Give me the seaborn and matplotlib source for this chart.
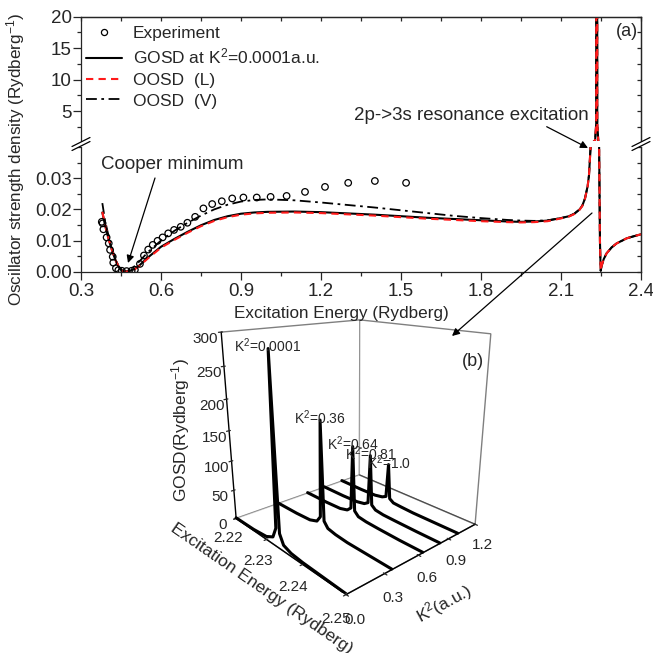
import matplotlib
matplotlib.use("Agg")
import matplotlib.pyplot as plt
import seaborn as sns
import numpy as np
import pandas as pd
from matplotlib.ticker import MultipleLocator, FixedLocator, FormatStrFormatter
from matplotlib.lines import Line2D
from matplotlib.patches import Polygon, FancyArrowPatch

# ---------------- data: panel (a) ----------------
exp_x = [0.378, 0.381, 0.384, 0.396, 0.404, 0.409, 0.419, 0.421, 0.431, 0.440,
         0.453, 0.471, 0.490, 0.502, 0.521, 0.536, 0.552, 0.569, 0.587, 0.606,
         0.627, 0.649, 0.674, 0.699, 0.728, 0.759, 0.792, 0.828, 0.867, 0.909,
         0.959, 1.011, 1.071, 1.140, 1.215, 1.302, 1.402, 1.519]
exp_y = [0.0160, 0.0155, 0.0136, 0.0110, 0.0091, 0.0070, 0.0048, 0.0029, 0.0011, 0.0005,
         0.0003, 0.0002, 0.0003, 0.0006, 0.0025, 0.0052, 0.0071, 0.0086, 0.0099, 0.0110,
         0.0123, 0.0134, 0.0144, 0.0157, 0.0176, 0.0203, 0.0217, 0.0226, 0.0235, 0.0238,
         0.0238, 0.0240, 0.0243, 0.0256, 0.0272, 0.0285, 0.0291, 0.0285]

energy = [0.38, 0.39, 0.40, 0.41, 0.42, 0.43, 0.44, 0.45, 0.46, 0.47,
          0.48, 0.50, 0.52, 0.55, 0.60, 0.65, 0.70, 0.75, 0.80, 0.85,
          0.90, 0.95, 1.00, 1.10, 1.20, 1.30, 1.40, 1.50, 1.60, 1.70,
          1.80, 1.90, 1.95, 2.00, 2.05, 2.10, 2.13, 2.15, 2.17, 2.18,
          2.19, 2.20, 2.205, 2.211, 2.220, 2.228, 2.232, 2.234, 2.236, 2.240,
          2.243, 2.246, 2.248, 2.249, 2.252, 2.260, 2.271, 2.290, 2.309, 2.330,
          2.346, 2.370, 2.400]
gosd_y = [0.0190, 0.0150, 0.0116, 0.0086, 0.0059, 0.0036, 0.0018, 0.0006, 0.0001, 0.0000,
          0.0002, 0.0008, 0.0021, 0.0045, 0.0080, 0.0105, 0.0128, 0.0149, 0.0166, 0.0178,
          0.0186, 0.0190, 0.0192, 0.0193, 0.0191, 0.0187, 0.0183, 0.0178, 0.0173, 0.0169,
          0.0165, 0.0161, 0.0160, 0.0161, 0.0164, 0.0172, 0.0178, 0.0186, 0.0200, 0.0212,
          0.0235, 0.0275, 0.0310, 0.0400, 0.0800, 0.40, 3.0, 300.0, 3.0, 0.20,
          0.0400, 0.0100, 0.0030, 0.0003, 0.0018, 0.0040, 0.0059, 0.0078, 0.0091, 0.0100,
          0.0107, 0.0113, 0.0120]
oosd_l_y = [0.0192, 0.0151, 0.0116, 0.0086, 0.0059, 0.0036, 0.0018, 0.0006, 0.0001, 0.0000,
            0.0002, 0.0007, 0.0019, 0.0042, 0.0077, 0.0102, 0.0125, 0.0146, 0.0163, 0.0175,
            0.0183, 0.0187, 0.0189, 0.0190, 0.0188, 0.0184, 0.0180, 0.0175, 0.0170, 0.0166,
            0.0162, 0.0159, 0.0158, 0.0159, 0.0162, 0.0171, 0.0177, 0.0185, 0.0199, 0.0211,
            0.0234, 0.0274, 0.0310, 0.0400, 0.0800, 0.40, 3.0, 300.0, 3.0, 0.20,
            0.0400, 0.0100, 0.0030, 0.0003, 0.0018, 0.0040, 0.0059, 0.0078, 0.0091, 0.0100,
            0.0107, 0.0113, 0.0120]
oosd_v_y = [0.0220, 0.0165, 0.0127, 0.0094, 0.0064, 0.0039, 0.0019, 0.0006, 0.0001, 0.0001,
            0.0005, 0.0017, 0.0034, 0.0062, 0.0100, 0.0131, 0.0157, 0.0180, 0.0200, 0.0215,
            0.0225, 0.0230, 0.0232, 0.0229, 0.0222, 0.0214, 0.0206, 0.0197, 0.0188, 0.0179,
            0.0172, 0.0166, 0.0164, 0.0163, 0.0165, 0.0172, 0.0178, 0.0186, 0.0200, 0.0212,
            0.0235, 0.0275, 0.0310, 0.0400, 0.0800, 0.40, 3.0, 300.0, 3.0, 0.20,
            0.0400, 0.0100, 0.0030, 0.0003, 0.0018, 0.0040, 0.0059, 0.0078, 0.0091, 0.0100,
            0.0107, 0.0113, 0.0120]

legend_labels = ["Experiment", "GOSD at K$^2$=0.0001a.u.", "OOSD  (L)", "OOSD  (V)"]

# ---------------- data: panel (b) ----------------
k2_values = [0.0001, 0.36, 0.64, 0.81, 1.0]
k2_labels = ["K$^2$=0.0001", "K$^2$=0.36", "K$^2$=0.64", "K$^2$=0.81", "K$^2$=1.0"]
e_res = [2.220, 2.226, 2.230, 2.232, 2.233, 2.2335, 2.234, 2.235, 2.237, 2.240, 2.245, 2.250]
gosd_traces = [
    [1, 2, 5, 12, 30, 290, 25, 10, 5, 3, 2, 1],
    [1, 2, 4, 9, 20, 178, 16, 7, 4, 2, 1.5, 1],
    [1, 1.5, 3, 7, 14, 122, 12, 5, 3, 2, 1, 1],
    [1, 1.5, 3, 6, 11, 97, 10, 4, 2, 1.5, 1, 1],
    [1, 1, 2, 5, 9, 70, 8, 3, 2, 1, 1, 1],
]

assert len(energy) == len(gosd_y) == len(oosd_l_y) == len(oosd_v_y)

# ---------------- style ----------------
sns.set_theme(style="ticks")
plt.rcParams["font.family"] = ["Liberation Sans", "DejaVu Sans"]
plt.rcParams["mathtext.default"] = "regular"
plt.rcParams["axes.linewidth"] = 0.9
for k in ("xtick.major.width", "ytick.major.width", "xtick.minor.width", "ytick.minor.width"):
    plt.rcParams[k] = 0.9

W = H = 653.0
def fx(px):
    return px / W
def fy(py):
    return 1 - py / H

fig = plt.figure(figsize=(6.53, 6.53), dpi=100)

x_left, x_right = 81, 641
ax_up = fig.add_axes([fx(x_left), fy(141.1), fx(x_right) - fx(x_left), fy(16.7) - fy(141.1)])
ax_lo = fig.add_axes([fx(x_left), fy(271.7), fx(x_right) - fx(x_left), fy(147) - fy(271.7)])

df = pd.DataFrame({"E": energy, "GOSD": gosd_y, "L": oosd_l_y, "V": oosd_v_y})
dfe = pd.DataFrame({"E": exp_x, "y": exp_y})

for ax in (ax_up, ax_lo):
    sns.lineplot(data=df, x="E", y="V", ax=ax, color="black", lw=1.3,
                 linestyle=(0, (6, 2.5, 1.5, 2.5)), estimator=None, sort=False)
    sns.lineplot(data=df, x="E", y="GOSD", ax=ax, color="black", lw=1.5,
                 estimator=None, sort=False)
    sns.lineplot(data=df, x="E", y="L", ax=ax, color="#ff1a1a", lw=1.5,
                 linestyle=(0, (3.5, 2.5)), estimator=None, sort=False)
    ax.set_xlim(0.3, 2.4)
    ax.set_xlabel("")
    ax.set_ylabel("")

sns.scatterplot(data=dfe, x="E", y="y", ax=ax_lo, s=22, marker="o",
                facecolors="none", edgecolor="black", linewidth=0.9, zorder=5)
ax_lo.set_xlabel("")
ax_lo.set_ylabel("")

ax_up.set_ylim(0.25, 20)
ax_lo.set_ylim(0, 0.04)

ax_up.spines["bottom"].set_visible(False)
ax_lo.spines["top"].set_visible(False)

# ticks: upper
ax_up.yaxis.set_major_locator(FixedLocator([5, 10, 15, 20]))
ax_up.yaxis.set_minor_locator(MultipleLocator(2.5))
ax_up.tick_params(axis="y", which="major", direction="out", length=5.5, labelsize=13.5, pad=1.2)
ax_up.tick_params(axis="y", which="minor", direction="out", length=3)
ax_up.tick_params(axis="x", which="both", bottom=False, labelbottom=False)
# ticks: lower
ax_lo.yaxis.set_major_locator(FixedLocator([0, 0.01, 0.02, 0.03]))
ax_lo.yaxis.set_major_formatter(FormatStrFormatter("%.2f"))
ax_lo.yaxis.set_minor_locator(MultipleLocator(0.005))
ax_lo.tick_params(axis="y", which="major", direction="out", length=5.5, labelsize=13.5, pad=1.2)
ax_lo.tick_params(axis="y", which="minor", direction="out", length=3)
ax_lo.xaxis.set_major_locator(MultipleLocator(0.3))
ax_lo.xaxis.set_minor_locator(MultipleLocator(0.15))
ax_lo.xaxis.set_major_formatter(FormatStrFormatter("%.1f"))
ax_lo.tick_params(axis="x", which="major", direction="out", length=5.5, labelsize=13.5, pad=2.5)
ax_lo.tick_params(axis="x", which="minor", direction="out", length=3)

# mirrored inward ticks on right / top
for ax, loc_maj, loc_min in ((ax_up, [5, 10, 15, 20], 2.5), (ax_lo, [0, 0.01, 0.02, 0.03], 0.005)):
    sec = ax.secondary_yaxis("right")
    sec.yaxis.set_major_locator(FixedLocator(loc_maj))
    sec.yaxis.set_minor_locator(MultipleLocator(loc_min))
    sec.tick_params(which="both", direction="in", length=3, labelright=False)
secx = ax_up.secondary_xaxis("top")
secx.xaxis.set_major_locator(MultipleLocator(0.3))
secx.xaxis.set_minor_locator(MultipleLocator(0.15))
secx.tick_params(which="both", direction="in", length=3, labeltop=False)

# legend
handles = [
    Line2D([], [], marker="o", ls="none", mfc="none", mec="black", ms=4.4, mew=0.9),
    Line2D([], [], color="black", lw=1.5),
    Line2D([], [], color="#ff1a1a", lw=1.5, ls=(0, (3.5, 2.5))),
    Line2D([], [], color="black", lw=1.3, ls=(0, (6, 2.5, 1.5, 2.5))),
]
ax_up.legend(handles, legend_labels, loc="upper left", bbox_to_anchor=(fx(86), fy(26)),
             bbox_transform=fig.transFigure, frameon=False, fontsize=12.5,
             handlelength=2.1, handletextpad=0.6, labelspacing=0.33, borderpad=0,
             borderaxespad=0, numpoints=1)

# axis break marks
def brk(xc, yc):
    poly = Polygon([(fx(xc - 9), fy(yc + 3)), (fx(xc + 9), fy(yc - 6)),
                    (fx(xc + 9), fy(yc - 2)), (fx(xc - 9), fy(yc + 7))],
                   closed=True, transform=fig.transFigure, facecolor="white",
                   edgecolor="none", zorder=10)
    fig.add_artist(poly)
    for off in (0, 4):
        fig.add_artist(Line2D([fx(xc - 9), fx(xc + 9)], [fy(yc + 3 + off), fy(yc - 6 + off)],
                              transform=fig.transFigure, color="black", lw=0.9, zorder=11))
brk(81, 143.5)
brk(641, 143.5)

# texts and arrows in panel (a)
fig.text(fx(627), fy(32), "(a)", fontsize=13, ha="center", va="center")
fig.text(fx(172.5), fy(164.3), "Cooper minimum", fontsize=13.5, ha="center", va="center")
fig.text(fx(471.5), fy(115), "2p->3s resonance excitation", fontsize=13.5, ha="center", va="center")
arrow_kw = dict(arrowstyle="-|>", lw=0.9, color="black", mutation_scale=11, shrinkA=0, shrinkB=0)
fig.add_artist(FancyArrowPatch((fx(155), fy(178)), (fx(128), fy(263)),
                               transform=fig.transFigure, **arrow_kw))
fig.add_artist(FancyArrowPatch((fx(546.7), fy(126.7)), (fx(588), fy(148)),
                               transform=fig.transFigure, **arrow_kw))
fig.add_artist(FancyArrowPatch((fx(592), fy(213)), (fx(452), fy(336)),
                               transform=fig.transFigure, **arrow_kw))

fig.text(fx(16), fy(159), "Oscillator strength density (Rydberg$^{-1}$)", rotation=90,
         fontsize=12.3, ha="center", va="center")
fig.text(fx(341.5), fy(313), "Excitation Energy (Rydberg)", fontsize=12.3, ha="center", va="center")

# ---------------- panel (b): 3D ----------------
cx, cy, side = 350, 437, 312
ax3 = fig.add_axes([fx(cx - side / 2), fy(cy + side / 2), side / W, side / H], projection="3d")
ax3.set_facecolor((1, 1, 1, 0))
for k, g, lab in zip(k2_values, gosd_traces, k2_labels):
    ax3.plot(e_res, [k] * len(e_res), g, color="black", lw=2.2)
    ax3.text(e_res[int(np.argmax(g))], k, max(g) + 4, lab, fontsize=10,
             ha="center", va="center")
ax3.set_xlim(2.22, 2.25)
ax3.set_ylim(0, 1.2)
ax3.set_zlim(0, 300)
ax3.set_xticks([2.22, 2.23, 2.24, 2.25])
ax3.set_yticks([0.0, 0.3, 0.6, 0.9, 1.2])
ax3.set_zticks([0, 50, 100, 150, 200, 250, 300])
ax3.xaxis.set_major_formatter(FormatStrFormatter("%.2f"))
ax3.yaxis.set_major_formatter(FormatStrFormatter("%.1f"))
ax3.zaxis.set_major_formatter(FormatStrFormatter("%d"))
ax3.tick_params(labelsize=11, pad=-1)
ax3.grid(False)
for axis in (ax3.xaxis, ax3.yaxis, ax3.zaxis):
    axis.pane.set_facecolor((1, 1, 1, 0))
    axis.pane.set_edgecolor("black")
    axis.pane.set_linewidth(1.0)
    axis.line.set_color("black")
    axis.line.set_linewidth(1.0)
ax3.zaxis.set_ticks_position("lower")
ax3.zaxis.set_label_position("lower")
ax3.zaxis.set_rotate_label(False)
ax3.set_xlabel("Excitation Energy (Rydberg)", fontsize=12.5, labelpad=-4)
ax3.set_ylabel("K$^2$(a.u.)", fontsize=12.5, labelpad=0)
ax3.set_zlabel("GOSD(Rydberg$^{-1}$)", fontsize=12.5, labelpad=2, rotation=90)
ax3.view_init(elev=18, azim=-42)
ax3.set_proj_type("persp", focal_length=0.3)
ax3.set_box_aspect((1, 1, 1.1))

fig.text(fx(473), fy(362), "(b)", fontsize=13, ha="center", va="center")

fig.savefig("out.png", dpi=100)
